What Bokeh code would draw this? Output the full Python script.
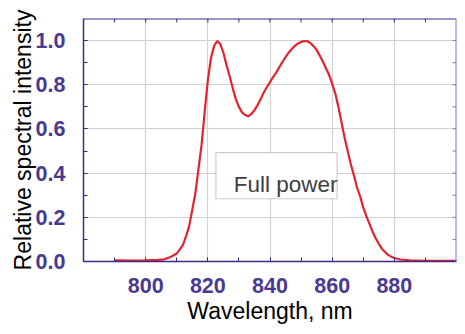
import math
from bokeh.plotting import figure
from bokeh.models import Range1d, FixedTicker, BoxAnnotation, Label, Span
from bokeh.embed import file_html
from bokeh.resources import INLINE

# ---- data ----
wavelength_nm = [790, 795, 800, 804, 806, 808, 809, 810, 811, 812, 813, 814, 815, 816,
                 817, 818, 819, 820, 821, 822, 823, 824, 825, 826, 827, 828, 829, 830,
                 831, 832, 833, 834, 835, 836, 837, 838, 839, 840, 841, 842, 843, 844,
                 845, 846, 847, 848, 849, 850, 851, 852, 853, 854, 855, 856, 857, 858,
                 859, 860, 861, 862, 863, 864, 865, 866, 867, 868, 869, 870, 871, 872,
                 873, 874, 875, 876, 877, 878, 879, 880, 882, 885, 890, 895, 900]
intensity = [0.005, 0.004, 0.005, 0.007, 0.010, 0.020, 0.028, 0.036, 0.055, 0.075, 0.115,
             0.160, 0.235, 0.310, 0.420, 0.530, 0.680, 0.820, 0.920, 0.975, 0.998, 0.985,
             0.945, 0.890, 0.840, 0.785, 0.735, 0.700, 0.675, 0.663, 0.657, 0.668, 0.685,
             0.708, 0.735, 0.765, 0.790, 0.812, 0.835, 0.855, 0.880, 0.903, 0.925, 0.945,
             0.962, 0.976, 0.987, 0.994, 0.998, 0.997, 0.989, 0.975, 0.958, 0.932, 0.905,
             0.875, 0.845, 0.805, 0.760, 0.700, 0.630, 0.560, 0.500, 0.440, 0.390, 0.335,
             0.295, 0.245, 0.205, 0.170, 0.135, 0.105, 0.080, 0.058, 0.043, 0.030, 0.022,
             0.016, 0.009, 0.005, 0.003, 0.003, 0.003]

x_ticks = [800, 820, 840, 860, 880]
x_tick_labels = ["800", "820", "840", "860", "880"]
x_minor_ticks = [790, 800, 810, 820, 830, 840, 850, 860, 870, 880, 890]
y_ticks = [0.0, 0.2, 0.4, 0.6, 0.8, 1.0]
y_tick_labels = ["0.0", "0.2", "0.4", "0.6", "0.8", "1.0"]
y_minor_ticks = [0.1, 0.2, 0.3, 0.4, 0.5, 0.6, 0.7, 0.8, 0.9, 1.0]
x_title = "Wavelength, nm"
y_title = "Relative spectral intensity"
annotation_text = "Full power"

X_MIN, X_MAX = 780, 900
Y_MIN, Y_MAX = 0.0, 1.1

AXIS = "#3b2a88"
RIGHT_AXIS = "#8576c2"
LABEL = "#4a3990"
FONT = "Liberation Sans"

p = figure(width=457, height=326,
           x_range=Range1d(X_MIN, X_MAX), y_range=Range1d(Y_MIN, Y_MAX),
           output_backend="svg", toolbar_location=None,
           min_border_left=83, min_border_right=1,
           min_border_top=18, min_border_bottom=61,
           x_axis_label=x_title, y_axis_label=y_title)
p.outline_line_color = None
p.background_fill_color = "white"
p.border_fill_color = "white"

xt = FixedTicker(ticks=x_ticks, minor_ticks=x_minor_ticks)
yt = FixedTicker(ticks=y_ticks, minor_ticks=y_minor_ticks)

p.xaxis.ticker = xt
p.yaxis.ticker = yt
p.xaxis.major_label_overrides = {t: s for t, s in zip(x_ticks, x_tick_labels)}
p.yaxis.major_label_overrides = {t: s for t, s in zip(y_ticks, y_tick_labels)}

for ax in (p.xaxis[0], p.yaxis[0]):
    ax.axis_line_color = AXIS
    ax.axis_line_width = 1.5
    ax.major_tick_line_color = AXIS
    ax.minor_tick_line_color = AXIS
    ax.major_tick_in = 4
    ax.major_tick_out = 0
    ax.minor_tick_in = 4
    ax.minor_tick_out = 0
    ax.major_label_text_font = FONT
    ax.major_label_text_font_style = "bold"
    ax.major_label_text_font_size = "21.5px"
    ax.major_label_text_color = LABEL
    ax.axis_label_text_font = FONT
    ax.axis_label_text_font_style = "normal"
    ax.axis_label_text_color = "black"

p.yaxis.axis_label_text_font_size = "23px"
p.yaxis.major_label_standoff = 18
p.yaxis.axis_label_standoff = -3
p.xaxis.axis_label_text_font_size = "23px"
p.xaxis.major_label_standoff = 16
p.xaxis.axis_label_standoff = 2

# top and right frame lines with inward ticks
p.add_layout(Span(location=Y_MAX, dimension="width", line_color=AXIS, line_width=2))
p.add_layout(Span(location=X_MAX, dimension="height", line_color=RIGHT_AXIS, line_width=2))
p.ray(x=x_minor_ticks, y=[Y_MAX] * len(x_minor_ticks), length=4, length_units="screen",
      angle=-math.pi / 2, line_color=AXIS, line_width=1)
p.ray(x=[X_MAX] * len(y_minor_ticks), y=y_minor_ticks, length=4, length_units="screen",
      angle=math.pi, line_color=RIGHT_AXIS, line_width=1)

p.xgrid.ticker = xt
p.ygrid.ticker = yt
p.xgrid.grid_line_color = "#d2d2d2"
p.ygrid.grid_line_color = "#d2d2d2"
p.xgrid.grid_line_width = 1.2
p.ygrid.grid_line_width = 1.2

p.line(wavelength_nm, intensity, line_color="#e3242e", line_width=2.2)

box = BoxAnnotation(left=822.6, right=861.6, bottom=0.284, top=0.493,
                    fill_color="white", fill_alpha=1.0,
                    line_color="#555555", line_width=1.2)
p.add_layout(box)
p.add_layout(Label(x=828.3, y=0.348, text=annotation_text, text_align="left",
                   text_baseline="alphabetic", text_font=FONT,
                   text_font_size="22.5px", text_color="#404040"))

open("out.html", "w").write(file_html(p, INLINE))
